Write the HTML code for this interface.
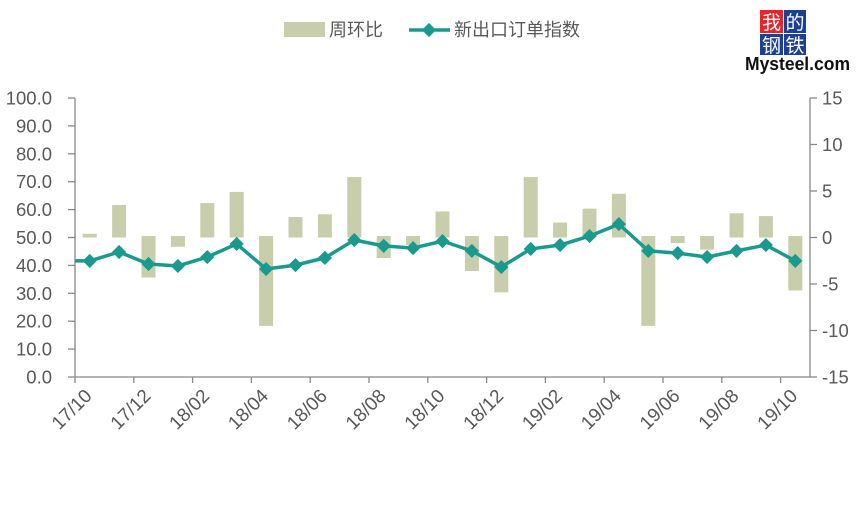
<!DOCTYPE html>
<html><head><meta charset="utf-8"><style>
body{margin:0;background:#fff;width:864px;height:515px;overflow:hidden;font-family:"Liberation Sans","Noto Sans CJK SC",sans-serif}
</style></head><body>
<svg id="chart" width="864" height="515" xmlns="http://www.w3.org/2000/svg" font-family="Liberation Sans, Noto Sans CJK SC, sans-serif">
<g>
  <rect x="284" y="22" width="41" height="15" fill="#c8cdab"/>
  <text x="329" y="36" font-size="18" fill="#595959">周环比</text>
  <line x1="409" y1="30" x2="450" y2="30" stroke="#1a9a8e" stroke-width="3.5"/>
  <rect x="424" y="25" width="10" height="10" fill="#1a9a8e" transform="rotate(45 429 30)"/>
  <text x="454" y="36" font-size="18" fill="#595959">新出口订单指数</text>
</g>
<g font-family="Noto Sans CJK SC, sans-serif">
  <rect x="760" y="10" width="23" height="23" fill="#e8232a"/>
  <rect x="784" y="10" width="22" height="23" fill="#1d3f94"/>
  <rect x="760" y="34" width="23" height="21" fill="#1d3f94"/>
  <rect x="784" y="34" width="22" height="21" fill="#1d3f94"/>
  <text x="771.5" y="29" font-size="19" fill="#fff" text-anchor="middle">我</text>
  <text x="795" y="29" font-size="19" fill="#fff" text-anchor="middle">的</text>
  <text x="771.5" y="52" font-size="19" fill="#fff" text-anchor="middle">钢</text>
  <text x="795" y="52" font-size="19" fill="#fff" text-anchor="middle">铁</text>
  <text x="745" y="70" font-size="18" font-weight="bold" fill="#111" font-family="Liberation Sans, sans-serif" textLength="105" lengthAdjust="spacingAndGlyphs">Mysteel.com</text>
</g>
<g id="axes"></g>
<g id="bars"></g>
<g id="line"></g>
</svg>
<script>
const categories=["17/10","17/11","17/12","18/01","18/02","18/03","18/04","18/05","18/06","18/07","18/08","18/09","18/10","18/11","18/12","19/01","19/02","19/03","19/04","19/05","19/06","19/07","19/08","19/09","19/10"];
const wowValues=[0.4,3.5,-4.3,-1.0,3.7,4.9,-9.5,2.2,2.5,6.5,-2.2,-0.8,2.8,-3.6,-5.9,6.5,1.6,3.1,4.7,-9.5,-0.6,-1.3,2.6,2.3,-5.7];
const indexValues=[41.6,44.8,40.5,39.8,43.0,47.7,38.7,40.1,42.7,49.1,47.0,46.2,48.7,45.2,39.4,45.9,47.3,50.5,54.8,45.2,44.4,43.0,45.2,47.3,41.6];
const leftTicks=["0.0","10.0","20.0","30.0","40.0","50.0","60.0","70.0","80.0","90.0","100.0"];
const rightTicks=["-15","-10","-5","0","5","10","15"];
const NS="http://www.w3.org/2000/svg";
const X0=75,X1=810,YT=98,YB=377;
const step=(X1-X0)/categories.length;
const xC=i=>X0+step*(i+0.5);
const yL=v=>YB-(v/100)*(YB-YT);
const yR=v=>YB-((v+15)/30)*(YB-YT);
function mk(t,a,p){const e=document.createElementNS(NS,t);for(const k in a)e.setAttribute(k,a[k]);p.appendChild(e);return e;}
const axes=document.getElementById('axes');
mk('line',{x1:X0,y1:YT,x2:X0,y2:YB,stroke:'#888','stroke-width':1.3},axes);
mk('line',{x1:X1,y1:YT,x2:X1,y2:YB,stroke:'#888','stroke-width':1.3},axes);
mk('line',{x1:X0,y1:YB,x2:X1,y2:YB,stroke:'#888','stroke-width':1.3},axes);
leftTicks.forEach((t,i)=>{const v=parseFloat(t),y=yL(v);
 mk('line',{x1:X0-7,y1:y,x2:X0,y2:y,stroke:'#888','stroke-width':1.3},axes);
 const tx=mk('text',{x:52,y:y+6.5,'font-size':18.5,fill:'#595959','text-anchor':'end'},axes);tx.textContent=t;
 
 });
rightTicks.forEach(t=>{const v=parseFloat(t),y=yR(v);
 mk('line',{x1:X1,y1:y,x2:X1+7,y2:y,stroke:'#888','stroke-width':1.3},axes);
 const tx=mk('text',{x:822,y:y+6.5,'font-size':18.5,fill:'#595959'},axes);tx.textContent=t;
 
 });
categories.forEach((c,i)=>{const x=X0+step*i;
 if(i%2===0){
 mk('line',{x1:x,y1:YB,x2:x,y2:YB+6,stroke:'#888','stroke-width':1.3},axes);
 const ax=x+18,ay=YB+20;
 const tx=mk('text',{x:ax,y:ay,'font-size':19,fill:'#595959','text-anchor':'end',transform:`rotate(-45 ${ax} ${ay})`},axes);tx.textContent=c;
 
 }});
const bars=document.getElementById('bars');
wowValues.forEach((v,i)=>{const y0=yR(0),y=yR(v);
 const r=mk('rect',{x:xC(i)-7,y:Math.min(y0,y)-(v<0?1.5:0),width:14,height:Math.abs(y-y0)+(v<0?1.5:0),fill:'#c8cdab'},bars);
 
 });
const lg=document.getElementById('line');
let d=`M${X0},${yL(indexValues[0])}`;
indexValues.forEach((v,i)=>{d+=` L${xC(i)},${yL(v)}`;});
const p=mk('path',{d:d,fill:'none',stroke:'#1a9a8e','stroke-width':3.5,'stroke-linejoin':'round'},lg);


indexValues.forEach((v,i)=>{const x=xC(i),y=yL(v);
 const m=mk('rect',{x:x-5,y:y-5,width:10,height:10,fill:'#1a9a8e',transform:`rotate(45 ${x} ${y})`},lg);
 
 });
</script>
</body></html>
